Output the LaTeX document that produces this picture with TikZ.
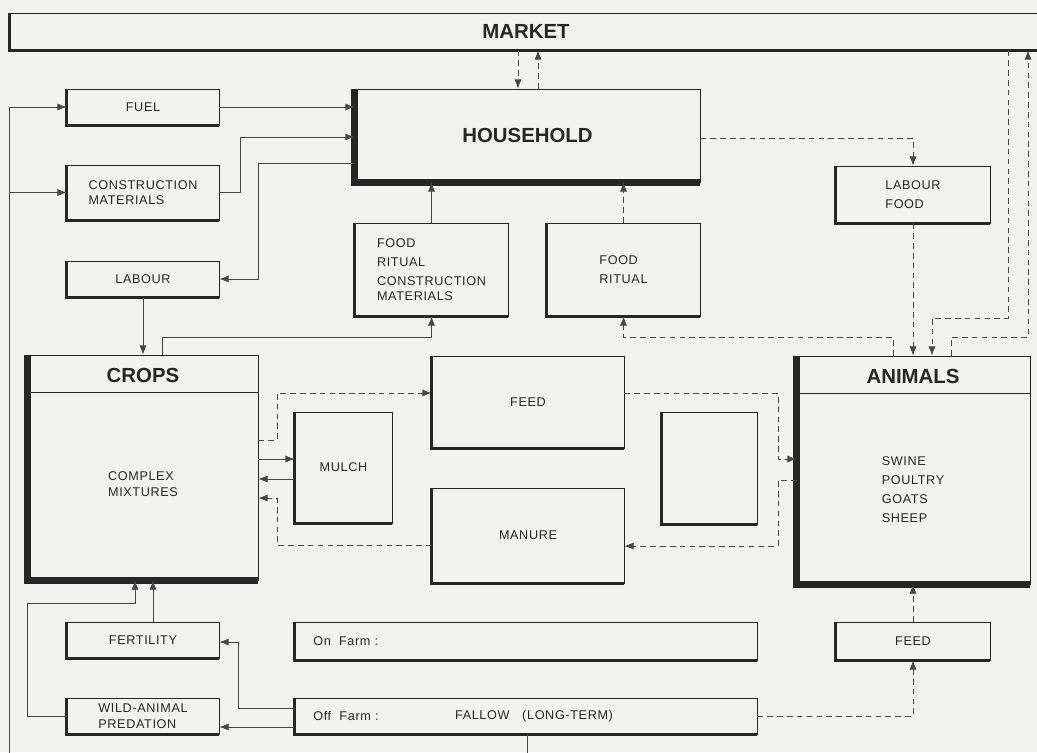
\documentclass[tikz,border=0pt]{standalone}
\usepackage[table]{xcolor}
\usepackage{fontspec}
\setmainfont{Liberation Sans}
\newfontfamily\lblfont[LetterSpace=5]{Liberation Sans}
\usepackage{tikz}
\usetikzlibrary{arrows.meta}
\definecolor{paper}{HTML}{F2F2F1}
\definecolor{ink}{HTML}{262626}

\begin{document}
\begin{tikzpicture}[x=0.025cm, y=-0.025cm, >={Latex[length=6.5pt,width=5pt]},
	lbl/.style={text=ink, align=left, inner sep=0pt, font=\lblfont\fontsize{9}{13.5}\selectfont},
	box/.style={lbl, draw=ink, line width=0.6pt},
	tight/.style={font=\lblfont\fontsize{9}{11}\selectfont},
	big/.style={text=ink, font=\bfseries\fontsize{14.5}{17}\selectfont},
	flow/.style={draw=ink!85, line width=0.5pt},
	dflow/.style={flow, dash pattern=on 4pt off 3pt}]
\path[use as bounding box, fill=paper] (0,0) rectangle (1037,752);

% boxes
\node [box, big, minimum width=25.8cm, minimum height=0.925cm] (market) at (526,31.5) {MARKET};
\node [box, minimum width=3.8cm, minimum height=0.9cm] (fuel) at (143,107) {FUEL};
\node [box, tight, minimum width=3.8cm, minimum height=1.375cm] (constr) at (143,192.5) {CONSTRUCTION\\MATERIALS};
\node [box, minimum width=3.8cm, minimum height=0.9cm] (labour) at (143,279) {LABOUR};
\node [box, big, minimum width=8.625cm, minimum height=2.325cm] (house) at (527.5,135.5) {HOUSEHOLD};
\node [box, minimum width=3.825cm, minimum height=2.325cm] (goods) at (431.5,269.5) {FOOD\\RITUAL\\CONSTRUCTION\\[-3pt]MATERIALS};
\node [box, minimum width=3.825cm, minimum height=2.325cm] (ritual) at (623.5,269.5) {FOOD\\RITUAL};
\node [box, minimum width=3.85cm, minimum height=1.425cm] (labfood) at (913,194.5) {LABOUR\\FOOD};
\node [box, minimum width=5.75cm, minimum height=5.625cm] (crops) at (143,467.5) {};
\node [big] (cropstitle) at (143,375) {CROPS};
\node [lbl, tight] (cropsmix) at (143,484) {COMPLEX\\MIXTURES};
\node [box, minimum width=2.425cm, minimum height=2.775cm] (mulch) at (343.5,467.5) {MULCH};
\node [box, minimum width=4.8cm, minimum height=2.3cm] (feed) at (528,402) {FEED};
\node [box, minimum width=4.8cm, minimum height=2.375cm] (manure) at (528,535.5) {MANURE};
\node [box, minimum width=2.375cm, minimum height=2.8cm] (spare) at (709.5,468) {};
\node [box, minimum width=5.825cm, minimum height=5.7cm] (animals) at (913.5,470) {};
\node [big] (animalstitle) at (913,376) {ANIMALS};
\node [lbl] (animalskind) at (913,490) {SWINE\\POULTRY\\GOATS\\SHEEP};
\node [box, minimum width=3.8cm, minimum height=0.9cm] (fertility) at (143,640) {FERTILITY};
\node [box, tight, minimum width=3.8cm, minimum height=0.9cm] (predation) at (143,716) {WILD-ANIMAL\\PREDATION};
\node [box, minimum width=11.55cm, minimum height=0.95cm] (onfarm) at (526,641) {};
\node [lbl, anchor=west] (onfarmtxt) at (313,641) {On~~Farm :};
\node [box, minimum width=11.55cm, minimum height=0.9cm] (offfarm) at (526,716) {};
\node [lbl, anchor=west] (offfarmtxt) at (313,716) {Off~~Farm :};
\node [lbl] (fallow) at (534,716) {FALLOW\quad(LONG-TERM)};
\node [box, minimum width=3.85cm, minimum height=0.95cm] (fodder) at (913,641) {FEED};

\draw[ink, line width=0.6pt] (crops.west |- 0,392) -- (crops.east |- 0,392);
\draw[ink, line width=0.6pt] (animals.west |- 0,393) -- (animals.east |- 0,393);

\foreach \n in {market,fuel,constr,labour,goods,ritual,labfood,mulch,feed,manure,spare,fertility,predation,onfarm,offfarm,fodder}
	\draw[ink, line width=2.4pt] (\n.north west) -- (\n.south west) -- (\n.south east);
\foreach \n in {house,crops,animals}
	\draw[ink, line width=4.5pt] (\n.north west) -- (\n.south west) -- (\n.south east);

% solid flows
\coordinate (rail) at (9,192.5);
\draw[flow, ->] (offfarm.south -| 527,0) -- (527,770) -| (9,107) -- (fuel.west);
\draw[flow, ->] (rail) -- (constr.west);
\draw[flow, ->] (fuel.east) -- (house.west |- fuel.east);
\draw[flow, ->] (constr.east) -| (240,137) -- (house.west |- 0,137);
\draw[flow, ->] (house.west |- 0,163) -| (258,279) -- (labour.east);
\draw[flow, ->] (labour.south) -- (crops.north);
\draw[flow, ->] (crops.north -| 162,0) |- (goods.south |- 0,337) -- (goods.south);
\draw[flow, ->] (goods.north) -- (house.south -| goods.north);
\draw[flow, ->] (crops.east |- 0,459) -- (mulch.west |- 0,459);
\draw[flow, ->] (mulch.west |- 0,479) -- (crops.east |- 0,479);
\draw[flow, ->] (fertility.north -| 153,0) -- (crops.south -| 153,0);
\draw[flow, ->] (predation.west) -| (27,603) -| (crops.south -| 135,0);
\draw[flow, ->] (offfarm.west |- 0,708) -| (238,642) -- (fertility.east |- 0,642);
\draw[flow, ->] (offfarm.west |- 0,727) -- (predation.east |- 0,727);

% dashed flows
\draw[dflow, ->] (market.south -| 518,0) -- (house.north -| 518,0);
\draw[dflow, ->] (house.north -| 538,0) -- (market.south -| 538,0);
\draw[dflow, ->] (ritual.north) -- (house.south -| ritual.north);
\draw[dflow, ->] (house.east |- 0,138) -| (labfood.north);
\draw[dflow, ->] (labfood.south) -- (animals.north -| labfood.south);
\draw[dflow, ->] (market.south -| 1008,0) -- (1008,318) -| (animals.north -| 932,0);
\draw[dflow, ->] (animals.north -| 951,0) |- (1028,337) -- (market.south -| 1028,0);
\draw[dflow, ->] (animals.north -| 893,0) |- (ritual.south |- 0,337) -- (ritual.south);
\draw[dflow, ->] (crops.east |- 0,440) -| (277,393) -- (feed.west |- 0,393);
\draw[dflow, ->] (manure.west |- 0,545) -| (277,498) -- (crops.east |- 0,498);
\draw[dflow, ->] (feed.east |- 0,393) -| (778,459) -- (animals.west |- 0,459);
\draw[dflow, ->] (animals.west |- 0,480) -| (778,546) -- (manure.east |- 0,546);
\draw[dflow, ->] (offfarm.east) -| (fodder.south);
\draw[dflow, ->] (fodder.north) -- (animals.south -| fodder.north);
\end{tikzpicture}
\end{document}
